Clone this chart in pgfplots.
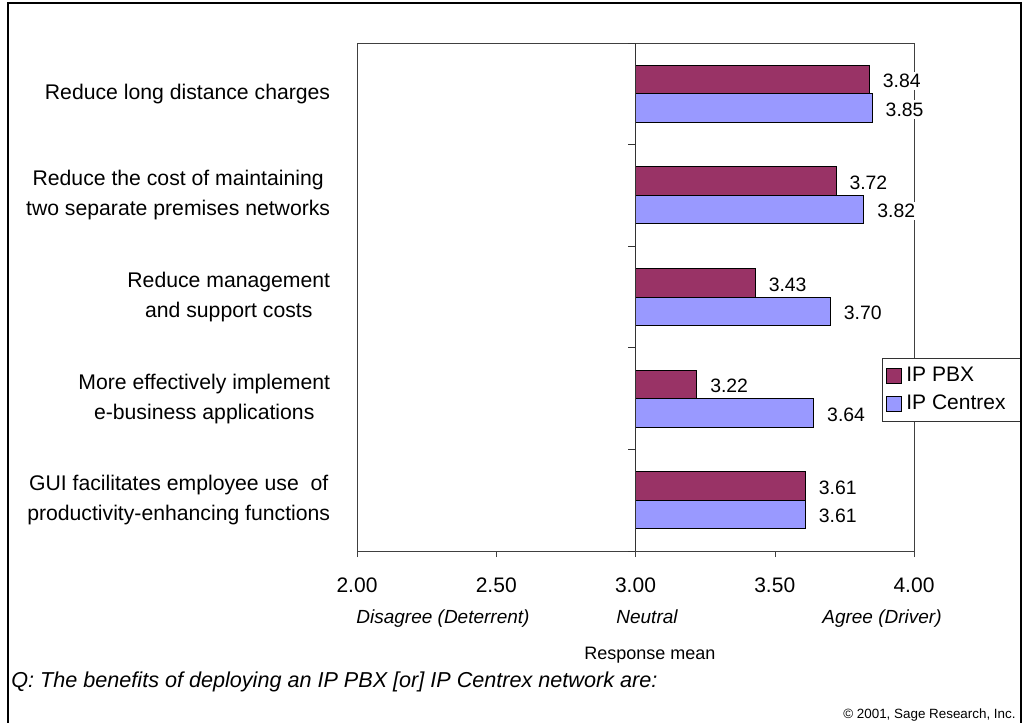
\documentclass[border=0pt]{standalone}
\usepackage{fontspec}
\setmainfont{Liberation Sans}
\usepackage{pgfplots}
\usepackage{pgfplotstable}
\pgfplotsset{compat=1.18}

\definecolor{pbx}{HTML}{993366}
\definecolor{centrex}{HTML}{9999FF}

% x is stored as the real response mean, bars start at 3.00 (neutral)
\pgfplotstableread{
cat val
0 3.84
1 3.72
2 3.43
3 3.22
4 3.61
}\pbxdata
\pgfplotstableread{
cat val
0 3.85
1 3.82
2 3.70
3 3.64
4 3.61
}\centrexdata

\begin{document}
\begin{tikzpicture}
\useasboundingbox (0,0) rectangle (511.5pt,361.5pt);
\begin{axis}[
  at={(178.5pt,86pt)}, anchor=south west,
  scale only axis, width=278.5pt, height=254pt,
  xbar, clip=false,
  xmin=-1, xmax=1, ymin=-0.5, ymax=4.5, y dir=reverse,
  xtick={-1,-0.5,0,0.5,1},
  xticklabels={2.00,2.50,3.00,3.50,4.00},
  ytick={0,1,2,3,4},
  yticklabels={Reduce long distance charges,
    Reduce the cost of maintaining\\two separate premises networks,
    Reduce management\\and support costs,
    More effectively implement\\e-business applications,
    GUI facilitates employee use~ of\\productivity-enhancing functions},
  tick align=outside, xtick pos=left,
  major tick length=3pt,
  ytick style={draw=none},
  xtick style={draw=black!75},
  axis line style={draw=black!75},
  xticklabel style={font=\fontsize{10.5}{12}\selectfont, yshift=-7pt},
  yticklabel style={align=center, font=\fontsize{10.6}{15}\selectfont, xshift=-6.9pt},
  xlabel={Response mean},
  xlabel style={at={(axis description cs:0.526,-0.206)}, anchor=center,
    font=\fontsize{9}{11}\selectfont},
  point meta=explicit,
  nodes near coords={\pgfmathprintnumber[fixed,fixed zerofill,precision=2,assume math mode=true]{\pgfplotspointmeta}},
  every node near coord/.append style={anchor=west, font=\fontsize{9.7}{11}\selectfont,
    inner sep=1.2pt, text=black, fill=white, xshift=5.3pt, yshift=-0.8pt},
  legend style={at={(axis description cs:0.9425,0.380)}, anchor=north west,
    draw=black!80, fill=white, font=\fontsize{10.5}{12}\selectfont,
    inner xsep=2pt, inner ysep=2.5pt, row sep=1pt},
  legend cell align=left,
]
\addplot[fill=pbx, draw=black, line width=0.5pt, bar width=0.28, bar shift=-0.14,
  legend image code/.code={\draw[fill=pbx,draw=black,line width=0.5pt] (0pt,-3.75pt) rectangle (7.5pt,3.75pt);}]
  table[x expr=\thisrow{val}-3, y=cat, meta=val] {\pbxdata};
\addlegendentry{IP PBX}
\addplot[fill=centrex, draw=black, line width=0.5pt, bar width=0.28, bar shift=0.14,
  legend image code/.code={\draw[fill=centrex,draw=black,line width=0.5pt] (0pt,-3.75pt) rectangle (7.5pt,3.75pt);}]
  table[x expr=\thisrow{val}-3, y=cat, meta=val] {\centrexdata};
\addlegendentry{IP Centrex\hspace*{4pt}}
% axis crossing at the neutral point
\draw[black!80] (axis cs:0,-0.5) -- (axis cs:0,4.5);
\pgfplotsinvokeforeach{-0.5,0.5,1.5,2.5,3.5,4.5}{
  \draw[black!80] (axis cs:0,#1) -- ++(-3.5pt,0pt);
}
\end{axis}
\begin{scope}[font=\fontsize{9.5}{11}\selectfont\itshape]
\node[anchor=base] at (221.5pt,49.5pt) {Disagree (Deterrent)};
\node[anchor=base] at (323.5pt,49.5pt) {Neutral};
\node[anchor=base] at (441pt,49.5pt) {Agree (Driver)};
\end{scope}
\node[anchor=west, inner sep=0pt, font=\fontsize{10.8}{12}\selectfont\itshape]
  at (5.5pt,20.5pt) {Q: The benefits of deploying an IP PBX [or] IP Centrex network are:};
\node[anchor=east, inner sep=0pt, font=\fontsize{6.7}{8}\selectfont]
  at (508pt,4pt) {© 2001, Sage Research, Inc.};
\draw[line width=0.8pt] (4pt,-5pt) -- (4pt,360pt) -- (510.5pt,360pt) -- (510.5pt,-5pt);
\end{tikzpicture}
\end{document}
